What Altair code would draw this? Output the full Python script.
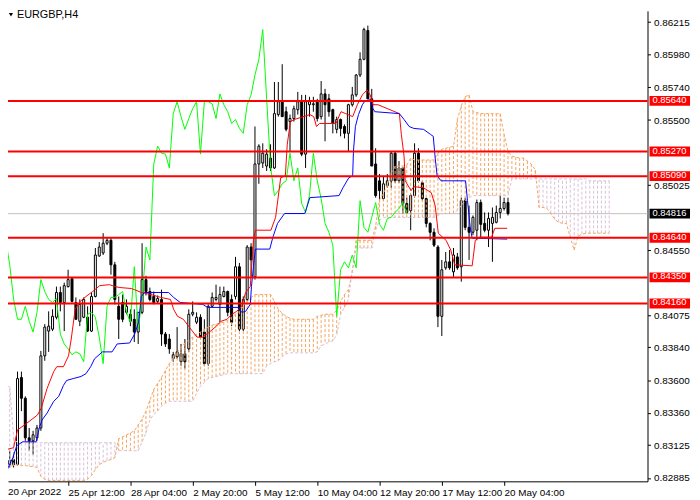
import altair as alt
import pandas as pd

W = 647
H = 476

# ---- candles (EURGBP H4) ----
opens = [0.83070, 0.82983, 0.83019, 0.82983, 0.83619, 0.83467, 0.83178, 0.83156, 0.83178, 0.83250,
         0.83777, 0.83958, 0.83972, 0.84059, 0.84240, 0.84167, 0.84283, 0.84341, 0.84167, 0.84030,
         0.84059, 0.84059, 0.83958, 0.84211, 0.84507, 0.84529, 0.84600, 0.84621, 0.84442, 0.84139,
         0.84167, 0.84095, 0.84081, 0.84044, 0.83951, 0.84095, 0.84334, 0.84247, 0.84211, 0.84175,
         0.84189, 0.83936, 0.83900, 0.83756, 0.83770, 0.83734, 0.83792, 0.83828, 0.84081, 0.84023,
         0.84059, 0.83951, 0.83720, 0.84139, 0.84189, 0.84153, 0.84211, 0.84247, 0.84189, 0.84211,
         0.84428, 0.83972, 0.84189, 0.84572, 0.84355, 0.85179, 0.85186, 0.85164, 0.85222, 0.85150,
         0.85540, 0.85634, 0.85561, 0.85489, 0.85511, 0.85576, 0.85634, 0.85251, 0.85612, 0.85612,
         0.85634, 0.85525, 0.85691, 0.85655, 0.85576, 0.85432, 0.85504, 0.85453, 0.85403, 0.85612,
         0.85684, 0.85829, 0.85944, 0.86154, 0.85655, 0.85179, 0.85056, 0.84926, 0.85020, 0.85056,
         0.85258, 0.85056, 0.85150, 0.84890, 0.84839, 0.84948, 0.85258, 0.85041, 0.84926, 0.84745,
         0.84680, 0.84572, 0.84066, 0.84420, 0.84464, 0.84391, 0.84500, 0.84428, 0.84911, 0.84716,
         0.84680, 0.84695, 0.84897, 0.84745, 0.84695, 0.84745, 0.84753, 0.84825, 0.84854, 0.84897]
highs = [0.83120, 0.83084, 0.83070, 0.83662, 0.83662, 0.83481, 0.83250, 0.83229, 0.83272, 0.83813,
         0.84009, 0.84102, 0.84117, 0.84283, 0.84283, 0.84312, 0.84406, 0.84341, 0.84204, 0.84189,
         0.84204, 0.84139, 0.84240, 0.84565, 0.84608, 0.84673, 0.84637, 0.84637, 0.84464, 0.84211,
         0.84225, 0.84189, 0.84117, 0.84117, 0.84081, 0.84600, 0.84362, 0.84276, 0.84247, 0.84218,
         0.84261, 0.83951, 0.83936, 0.83806, 0.83987, 0.83864, 0.83900, 0.84117, 0.84175, 0.84095,
         0.84081, 0.84044, 0.84153, 0.84240, 0.84297, 0.84283, 0.84283, 0.84254, 0.84225, 0.84500,
         0.84456, 0.84211, 0.84586, 0.84600, 0.85453, 0.85323, 0.85330, 0.85287, 0.85323, 0.85778,
         0.85778, 0.85908, 0.85598, 0.85540, 0.85605, 0.85706, 0.85684, 0.85684, 0.85670, 0.85670,
         0.85655, 0.85785, 0.85728, 0.85691, 0.85583, 0.85525, 0.85511, 0.85468, 0.85619, 0.85742,
         0.85836, 0.85995, 0.86175, 0.86190, 0.85728, 0.85294, 0.85106, 0.85092, 0.85106, 0.85272,
         0.85272, 0.85200, 0.85150, 0.84933, 0.84962, 0.85330, 0.85294, 0.85056, 0.84933, 0.84753,
         0.84709, 0.84586, 0.84478, 0.84536, 0.84550, 0.84565, 0.84529, 0.84933, 0.84933, 0.84875,
         0.84803, 0.84919, 0.84919, 0.84825, 0.84825, 0.84861, 0.84875, 0.84948, 0.84933, 0.84933]
lows = [0.82976, 0.82961, 0.82961, 0.82976, 0.83373, 0.83156, 0.83084, 0.83055, 0.83156, 0.83229,
        0.83741, 0.83806, 0.83958, 0.84044, 0.84102, 0.83958, 0.84276, 0.84167, 0.84044, 0.83994,
        0.84052, 0.83951, 0.83951, 0.84204, 0.84500, 0.84514, 0.84586, 0.84370, 0.84153, 0.83900,
        0.84023, 0.84081, 0.83994, 0.83878, 0.83864, 0.84081, 0.84218, 0.84175, 0.84153, 0.84160,
        0.83850, 0.83842, 0.83792, 0.83734, 0.83756, 0.83705, 0.83684, 0.83806, 0.84066, 0.84009,
        0.83900, 0.83705, 0.83705, 0.84131, 0.84175, 0.84023, 0.84204, 0.84066, 0.83994, 0.84189,
        0.83958, 0.83958, 0.84175, 0.84355, 0.84334, 0.85034, 0.85150, 0.85128, 0.85128, 0.85143,
        0.85525, 0.85525, 0.85417, 0.85272, 0.85489, 0.85540, 0.85236, 0.85150, 0.85525, 0.85561,
        0.85489, 0.85504, 0.85345, 0.85525, 0.85403, 0.85403, 0.85381, 0.85366, 0.85272, 0.85598,
        0.85670, 0.85814, 0.85937, 0.85655, 0.85164, 0.84933, 0.84911, 0.84911, 0.85005, 0.85005,
        0.85041, 0.85041, 0.84817, 0.84817, 0.84695, 0.84933, 0.85041, 0.84911, 0.84716, 0.84621,
        0.84572, 0.83987, 0.83922, 0.84406, 0.84406, 0.84355, 0.84406, 0.84319, 0.84695, 0.84478,
        0.84659, 0.84621, 0.84637, 0.84680, 0.84572, 0.84464, 0.84745, 0.84781, 0.84839, 0.84803]
closes = [0.83012, 0.83012, 0.82983, 0.83611, 0.83467, 0.83178, 0.83156, 0.83200, 0.83250, 0.83777,
          0.83987, 0.83994, 0.84066, 0.84240, 0.84167, 0.84290, 0.84334, 0.84175, 0.84044, 0.84153,
          0.84189, 0.83958, 0.84211, 0.84514, 0.84572, 0.84600, 0.84621, 0.84442, 0.84189, 0.84044,
          0.84044, 0.84139, 0.84030, 0.83951, 0.84095, 0.84334, 0.84247, 0.84189, 0.84167, 0.84196,
          0.83936, 0.83864, 0.83828, 0.83785, 0.83806, 0.83792, 0.83734, 0.84081, 0.84095, 0.84059,
          0.83914, 0.83720, 0.84139, 0.84204, 0.84204, 0.84225, 0.84247, 0.84095, 0.84023, 0.84428,
          0.83972, 0.84189, 0.84572, 0.84478, 0.85179, 0.85309, 0.85258, 0.85251, 0.85150, 0.85547,
          0.85634, 0.85525, 0.85432, 0.85511, 0.85583, 0.85634, 0.85251, 0.85634, 0.85634, 0.85619,
          0.85511, 0.85691, 0.85612, 0.85561, 0.85475, 0.85504, 0.85439, 0.85403, 0.85612, 0.85684,
          0.85829, 0.85944, 0.86161, 0.85655, 0.85164, 0.84948, 0.84984, 0.85034, 0.85056, 0.85258,
          0.85056, 0.85150, 0.84890, 0.84825, 0.84948, 0.85258, 0.85056, 0.84926, 0.84745, 0.84680,
          0.84586, 0.84066, 0.84406, 0.84464, 0.84420, 0.84514, 0.84420, 0.84911, 0.84716, 0.84680,
          0.84789, 0.84897, 0.84738, 0.84695, 0.84781, 0.84789, 0.84825, 0.84854, 0.84897, 0.84816]

# ---- Ichimoku cloud (Senkou Span A / B), per bar incl. 26 bars ahead ----
senkou_a = ([0.82961, 0.82969, 0.82976, 0.82983, 0.82976, 0.82976, 0.82969, 0.82969, 0.82961, 0.82896, 0.82875]
            + [0.82867] * 10
            + [0.82875, 0.82903, 0.82947, 0.82983, 0.82997, 0.83012, 0.83019, 0.83033,
               0.83171, 0.83185, 0.83200, 0.83214, 0.83229, 0.83272, 0.83315, 0.83373, 0.83452, 0.83532,
               0.83575, 0.83619, 0.83669, 0.83720, 0.83763, 0.83799, 0.83842, 0.83871, 0.83893, 0.83914,
               0.83936, 0.83951, 0.83972, 0.83987, 0.84001, 0.84009, 0.84016, 0.84023, 0.84037, 0.84059,
               0.84081, 0.84102, 0.84139, 0.84175, 0.84204]
            + [0.84225] * 5
            + [0.84175, 0.84117, 0.84088, 0.84066, 0.84052]
            + [0.84044] * 6
            + [0.84066, 0.84074, 0.84081, 0.84081, 0.84081, 0.84110, 0.84175, 0.84225, 0.84261, 0.84384]
            + [0.84621] * 5
            + [0.84724, 0.84919, 0.84962, 0.85027, 0.85114, 0.85164, 0.85164, 0.85164, 0.85171, 0.85222]
            + [0.85208] * 6
            + [0.85258, 0.85287, 0.85294, 0.85301, 0.85309, 0.85504, 0.85605, 0.85670, 0.85684, 0.85561, 0.85554]
            + [0.85547] * 6
            + [0.85395, 0.85272, 0.85236, 0.85229, 0.85222, 0.85222, 0.85200, 0.85179, 0.85135,
               0.84861, 0.84861, 0.84854, 0.84817, 0.84774, 0.84753, 0.84745, 0.84745, 0.84644, 0.84550, 0.84651, 0.84666]
            + [0.84673] * 7)
senkou_b = ([0.83554, 0.83554, 0.83178]
            + [0.83142] * 26
            + [0.83084] * 6
            + [0.83149, 0.83214, 0.83308, 0.83351, 0.83373, 0.83409, 0.83431]
            + [0.83445] * 7
            + [0.83503, 0.83554, 0.83582, 0.83611, 0.83619, 0.83626, 0.83633, 0.83640]
            + [0.83647] * 10
            + [0.83705, 0.83720, 0.83734, 0.83741, 0.83770, 0.83792]
            + [0.83799] * 7
            + [0.83806, 0.83850, 0.83864, 0.83878, 0.83886, 0.83929, 0.84081, 0.84131, 0.84189, 0.84406]
            + [0.84565] * 5
            + [0.84695, 0.84767]
            + [0.84789] * 14
            + [0.84803]
            + [0.84817] * 4
            + [0.84839, 0.84875, 0.84911, 0.84933]
            + [0.84948] * 10
            + [0.85070] * 20
            + [0.85056] * 6)

# ---- Tenkan-sen (red) and Kijun-sen (blue) ----
tenkan_i = [0, 2, 3, 4.8, 8.1, 9.1, 10.6, 12.3, 13.1, 14.8, 16.1, 16.8, 17.8, 19.1, 20.6, 22.3, 24.1, 26.6, 28.1, 29.3,
            32.3, 34.8, 37.3, 39.8, 42.3, 43.1, 44.1, 45.6, 48.1, 49.1, 50.6, 52.3, 54.1, 55.3, 56.8, 58.1, 59.3, 60.6, 61.6, 62.8,
            63.6, 64.1, 68.1, 69.3, 70.6, 71.8, 72.3, 73.1, 74.1, 78.1, 79.1, 79.8, 80.6, 84.8, 86.1, 87.3, 89.1, 90.3, 91.6, 92.8,
            93.6, 94.3, 95.6, 101.1, 101.6, 102.3, 102.6, 104.1, 104.8, 107.3, 109.3, 110.3, 111.1, 113.1, 114.3, 115.3, 119.8, 120.6, 121.6, 124.8,
            125.6, 128.8]
tenkan_p = [0.83091, 0.83106, 0.83236, 0.83272, 0.83344, 0.83395, 0.83539, 0.83662, 0.83698, 0.83698,
            0.83777, 0.83900, 0.84117, 0.84175, 0.84211, 0.84247, 0.84290, 0.84297, 0.84283, 0.84276,
            0.84269, 0.84240, 0.84225, 0.84204, 0.84189, 0.84117, 0.84066, 0.84044, 0.83951, 0.83914,
            0.83914, 0.83951, 0.83994, 0.84030, 0.84044, 0.84081, 0.84102, 0.84139, 0.84240, 0.84283,
            0.84621, 0.84695, 0.84695, 0.84789, 0.85078, 0.85092, 0.85323, 0.85489, 0.85504, 0.85540,
            0.85525, 0.85453, 0.85475, 0.85475, 0.85561, 0.85547, 0.85525, 0.85612, 0.85684, 0.85720,
            0.85684, 0.85612, 0.85612, 0.85547, 0.85395, 0.85236, 0.85056, 0.84984, 0.85013, 0.85005,
            0.84969, 0.84875, 0.84673, 0.84621, 0.84550, 0.84442, 0.84435, 0.84621, 0.84644, 0.84644,
            0.84709, 0.84709]
kijun_i = [0, 0.6, 1.8, 2.8, 4.3, 7.8, 8.6, 9.3, 10.6, 12.3, 13.6, 14.8, 15.6, 17.3, 19.3, 20.6, 21.8, 22.8, 24.8, 27.3,
           28.6, 31.8, 33.1, 34.1, 34.8, 35.6, 41.8, 43.1, 44.8, 50.6, 51.8, 59.8, 60.6, 61.6, 62.8, 63.1, 63.6, 64.1, 67.8, 68.6,
           69.8, 71.6, 76.8, 77.3, 78.1, 85.6, 86.6, 88.1, 89.1, 89.3, 89.8, 90.6, 91.6, 92.3, 93.6, 94.3, 94.8, 101.1, 102.3, 103.6,
           104.8, 107.3, 109.1, 109.8, 110.3, 110.8, 111.8, 118.1, 118.6, 119.3, 119.8, 128.8]
kijun_p = [0.82911, 0.82961, 0.83033, 0.83120, 0.83149, 0.83149, 0.83250, 0.83308, 0.83359, 0.83445,
           0.83481, 0.83561, 0.83597, 0.83611, 0.83626, 0.83647, 0.83698, 0.83756, 0.83806, 0.83806,
           0.83864, 0.83871, 0.83936, 0.84023, 0.84211, 0.84240, 0.84240, 0.84204, 0.84167, 0.84153,
           0.84131, 0.84131, 0.84095, 0.84102, 0.84153, 0.84283, 0.84428, 0.84557, 0.84557, 0.84644,
           0.84745, 0.84817, 0.84817, 0.84861, 0.84933, 0.84948, 0.85005, 0.85078, 0.85092, 0.85272,
           0.85453, 0.85540, 0.85612, 0.85641, 0.85648, 0.85583, 0.85561, 0.85547, 0.85504, 0.85453,
           0.85439, 0.85432, 0.85395, 0.85381, 0.85222, 0.85092, 0.85056, 0.85056, 0.84911, 0.84716,
           0.84637, 0.84630]

CHIKOU_SHIFT = 26

# ---- horizontal levels & labels ----
level_prices = [0.85640, 0.85270, 0.85090, 0.84640, 0.84350, 0.84160]
level_labels = ["0.85640", "0.85270", "0.85090", "0.84640", "0.84350", "0.84160"]
last_price = 0.84816
last_label = "0.84816"

# scale labels that are not covered by the price boxes
y_ticks = [0.86215, 0.85980, 0.85740, 0.85500, 0.85025, 0.84550,
           0.84075, 0.83840, 0.83600, 0.83360, 0.83125, 0.82885]
x_tick_pos = [16, 32, 48, 64, 80, 96, 112, 128]
x_tick_labels = ["25 Apr 12:00", "28 Apr 04:00", "2 May 20:00", "5 May 12:00",
                 "10 May 04:00", "12 May 20:00", "17 May 12:00", "20 May 04:00"]
first_x_label = "20 Apr 2022"
title_text = "EURGBP,H4"

# ---- tables ----
n = len(closes)
candles = pd.DataFrame({"i": list(range(n)), "o": opens, "h": highs, "l": lows, "c": closes})
candles["dir"] = ["up" if c >= o else "down" for o, c in zip(opens, closes)]

cloud = pd.DataFrame({"i": list(range(len(senkou_a))), "a": senkou_a, "b": senkou_b})
cloud["dir"] = ["bull" if a >= b else "bear" for a, b in zip(senkou_a, senkou_b)]

chikou = pd.DataFrame({"i": list(range(n - CHIKOU_SHIFT)), "p": closes[CHIKOU_SHIFT:]})
tenkan = pd.DataFrame({"i": tenkan_i, "p": tenkan_p})
kijun = pd.DataFrame({"i": kijun_i, "p": kijun_p})
levels = pd.DataFrame({"p": level_prices, "lab": level_labels})
last = pd.DataFrame({"p": [last_price], "lab": [last_label]})

FONT = "Liberation Sans"
xs = alt.Scale(domain=[1.825, 163.575], nice=False, zero=False)
ys = alt.Scale(domain=[0.82860, 0.86298], nice=False, zero=False)

label_expr = "[" + ",".join("'" + s + "'" for s in x_tick_labels) + "][round(datum.value/16)-1]"
x_axis = alt.Axis(values=x_tick_pos, labelExpr=label_expr, orient="bottom", title=None, grid=False,
                  domainColor="black", tickColor="black", tickSize=4, labelPadding=2,
                  labelAlign="left", labelFlush=False, labelOverlap=False,
                  labelFont=FONT, labelFontSize=10, labelColor="black")
y_axis = alt.Axis(values=y_ticks, format=".5f", orient="right", title=None, grid=False,
                  domainColor="black", tickColor="black", tickSize=3, labelPadding=3,
                  labelFlush=False, labelOverlap=False,
                  labelFont=FONT, labelFontSize=10, labelColor="black")


def X(field="i:Q"):
    return alt.X(field, scale=xs, axis=x_axis)


def Y(field):
    return alt.Y(field, scale=ys, axis=y_axis)


wicks = alt.Chart(candles).mark_rule(color="black", strokeWidth=1, clip=True).encode(
    x=X(), y=Y("l:Q"), y2="h:Q")
bodies = alt.Chart(candles).mark_bar(size=2, stroke="black", strokeWidth=1, clip=True).encode(
    x=X(), y=Y("o:Q"), y2="c:Q",
    fill=alt.Fill("dir:N", scale=alt.Scale(domain=["up", "down"], range=["white", "black"]), legend=None),
)
hatch = alt.Chart(cloud).mark_rule(strokeWidth=1, strokeDash=[3, 2], clip=True).encode(
    x=X(), y=Y("a:Q"), y2="b:Q",
    color=alt.Color("dir:N", scale=alt.Scale(domain=["bull", "bear"], range=["#f4a460", "#d8bfd8"]), legend=None),
)
line_a = alt.Chart(cloud).mark_line(color="#f4a460", strokeWidth=1, strokeDash=[3, 2], clip=True).encode(
    x=X(), y=Y("a:Q"))
line_b = alt.Chart(cloud).mark_line(color="#d8bfd8", strokeWidth=1, strokeDash=[3, 2], clip=True).encode(
    x=X(), y=Y("b:Q"))
last_line = alt.Chart(last).mark_rule(color="#c0c0c0", strokeWidth=1).encode(
    y=Y("p:Q"), x=alt.value(0), x2=alt.value(W))
chik = alt.Chart(chikou).mark_line(color="#00ff00", strokeWidth=1, clip=True).encode(x=X(), y=Y("p:Q"))
tk = alt.Chart(tenkan).mark_line(color="#ff0000", strokeWidth=1, clip=True).encode(x=X(), y=Y("p:Q"))
kj = alt.Chart(kijun).mark_line(color="#0000ff", strokeWidth=1, clip=True).encode(x=X(), y=Y("p:Q"))
lvl = alt.Chart(levels).mark_rule(color="#ff0000", strokeWidth=2).encode(
    y=Y("p:Q"), x=alt.value(0), x2=alt.value(W))
lvl_box = alt.Chart(levels).mark_rule(color="#ff0000", strokeWidth=10, strokeCap="butt").encode(
    y=Y("p:Q"), x=alt.value(W + 2), x2=alt.value(W + 43))
lvl_txt = alt.Chart(levels).mark_text(align="left", baseline="middle", color="white",
                                      font=FONT, fontSize=9.5, dy=-1).encode(
    y=Y("p:Q"), x=alt.value(W + 5), text="lab:N")
last_box = alt.Chart(last).mark_rule(color="black", strokeWidth=10, strokeCap="butt").encode(
    y=Y("p:Q"), x=alt.value(W + 2), x2=alt.value(W + 43))
last_txt = alt.Chart(last).mark_text(align="left", baseline="middle", color="white",
                                     font=FONT, fontSize=9.5, dy=-1).encode(
    y=Y("p:Q"), x=alt.value(W + 5), text="lab:N")

first_lab = alt.Chart(pd.DataFrame({"t": [first_x_label]})).mark_text(
    align="left", baseline="top", color="black", font=FONT, fontSize=10).encode(
    x=alt.value(0), y=alt.value(H + 6), text="t:N")
title_tri = alt.Chart(pd.DataFrame({"t": [title_text]})).mark_point(
    shape="triangle-down", filled=True, color="black", size=18, opacity=1).encode(
    x=alt.value(3), y=alt.value(4))
title_txt = alt.Chart(pd.DataFrame({"t": [title_text]})).mark_text(
    align="left", baseline="middle", color="black", font=FONT, fontSize=11).encode(
    x=alt.value(9), y=alt.value(4), text="t:N")

chart = alt.layer(
    last_line, wicks, bodies, hatch, line_a, line_b, chik, tk, kj, lvl,
    lvl_box, lvl_txt, last_box, last_txt, first_lab, title_tri, title_txt,
).properties(
    width=W, height=H,
    autosize=alt.AutoSizeParams(type="none"),
    padding={"left": 0, "top": 0, "right": 45, "bottom": 16},
    background="white",
).configure_view(stroke=None)

chart.save("out.html", embed_options={"renderer": "svg", "actions": False})
